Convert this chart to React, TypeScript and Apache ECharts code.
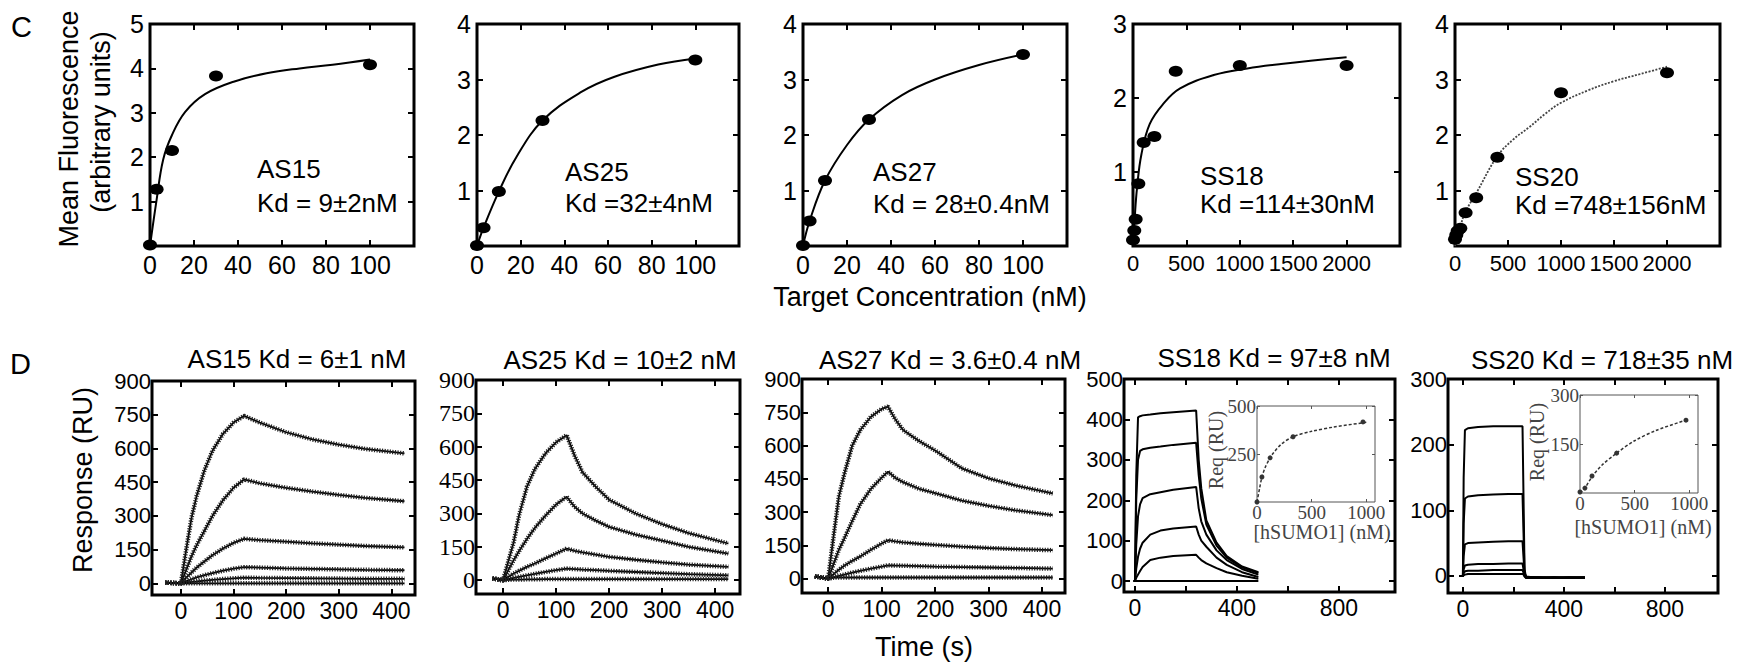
import { useEffect, useRef } from 'react';
import * as echarts from 'echarts';

// ---------------- Panel C: titration data ----------------
const cAS15Conc = [0, 3, 10, 30, 100];
const cAS15Fluor = [0.02, 1.28, 2.15, 3.83, 4.08];
const cAS15FitConc = [0, 3, 6, 10, 16, 25, 38, 53, 68, 83, 100];
const cAS15FitFluor = [0, 1.04, 1.95, 2.5, 3.02, 3.42, 3.7, 3.89, 4.0, 4.08, 4.2];

const cAS25Conc = [0, 3, 10, 30, 100];
const cAS25Fluor = [0.01, 0.33, 0.98, 2.26, 3.35];
const cAS25FitConc = [0, 3, 10, 18, 30, 48, 63, 83, 100];
const cAS25FitFluor = [0, 0.33, 0.98, 1.6, 2.26, 2.78, 3.05, 3.27, 3.38];

const cAS27Conc = [0, 3, 10, 30, 100];
const cAS27Fluor = [0.01, 0.45, 1.18, 2.28, 3.45];
const cAS27FitConc = [0, 3, 10, 20, 30, 45, 60, 80, 100];
const cAS27FitFluor = [0, 0.45, 1.18, 1.82, 2.28, 2.72, 3.0, 3.26, 3.45];

const cSS18Conc = [0, 12, 25, 50, 100, 200, 400, 1000, 2000];
const cSS18Fluor = [0.08, 0.21, 0.36, 0.84, 1.4, 1.48, 2.36, 2.44, 2.44];
const cSS18FitConc = [0, 16, 38, 79, 157, 283, 441, 756, 1071, 1386, 2000];
const cSS18FitFluor = [0, 0.38, 0.79, 1.24, 1.65, 1.92, 2.13, 2.31, 2.4, 2.46, 2.55];

const cSS20Conc = [0, 12, 25, 50, 100, 200, 400, 1000, 2000];
const cSS20Fluor = [0.12, 0.2, 0.27, 0.32, 0.6, 0.87, 1.6, 2.76, 3.12];
const cSS20FitConc = [0, 50, 100, 200, 400, 550, 700, 850, 1000, 1250, 1500, 1750, 2000];
const cSS20FitFluor = [0, 0.35, 0.62, 0.95, 1.62, 1.92, 2.14, 2.38, 2.58, 2.8, 2.97, 3.1, 3.23];

// ---------------- Panel D: sensorgrams ----------------
const dAS15Time = [-30, 0, 10, 20, 30, 45, 60, 80, 100, 120, 150, 200, 250, 300, 350, 425];
const dAS15Resp1 = [3, 0, 150, 290, 390, 505, 590, 665, 715, 745, 715, 672, 640, 617, 598, 578];
const dAS15Resp2 = [3, 0, 60, 120, 170, 235, 300, 370, 425, 462, 445, 425, 408, 393, 380, 365];
const dAS15Resp3 = [3, 0, 25, 48, 70, 98, 125, 155, 180, 198, 192, 185, 178, 172, 166, 160];
const dAS15Resp4 = [3, 0, 9, 18, 26, 36, 45, 56, 65, 72, 70, 66, 64, 62, 60, 58];
const dAS15Resp5 = [3, 0, 3, 6, 8, 12, 15, 19, 22, 25, 24, 23, 22, 21, 20, 20];
const dAS15Resp6 = [3, 0, 0, 0, 0, 0, 0, 0, 0, 0, 0, 0, 0, 0, 0, 0];

const dAS25Time = [-20, 0, 10, 20, 30, 45, 60, 80, 100, 120, 135, 150, 175, 200, 250, 300, 350, 425];
const dAS25Resp1 = [8, 0, 85, 170, 290, 420, 500, 570, 620, 652, 560, 485, 420, 362, 300, 252, 212, 165];
const dAS25Resp2 = [8, 0, 45, 90, 130, 185, 235, 290, 340, 375, 330, 300, 268, 240, 205, 178, 150, 120];
const dAS25Resp3 = [8, 0, 15, 30, 42, 60, 75, 98, 120, 142, 132, 125, 115, 105, 92, 80, 70, 60];
const dAS25Resp4 = [8, 0, 5, 10, 15, 22, 28, 37, 45, 52, 50, 48, 45, 42, 37, 32, 27, 22];
const dAS25Resp5 = [8, 0, 2, 3, 3, 4, 4, 5, 5, 5, 5, 5, 5, 5, 5, 5, 5, 5];

const dAS27Time = [-25, 0, 10, 20, 30, 45, 60, 80, 100, 112, 125, 140, 170, 200, 250, 300, 350, 420];
const dAS27Resp1 = [10, 0, 190, 370, 470, 600, 670, 730, 765, 775, 720, 670, 620, 578, 497, 452, 420, 384];
const dAS27Resp2 = [10, 0, 65, 130, 180, 260, 335, 405, 455, 482, 455, 435, 405, 385, 352, 328, 308, 286];
const dAS27Resp3 = [10, 0, 20, 40, 58, 80, 100, 130, 158, 173, 168, 163, 157, 152, 144, 138, 133, 128];
const dAS27Resp4 = [10, 0, 6, 12, 18, 27, 35, 45, 54, 60, 59, 58, 56, 54, 52, 50, 48, 45];
const dAS27Resp5 = [10, 0, 4, 5, 5, 5, 5, 5, 5, 5, 5, 5, 5, 5, 5, 5, 5, 5];

const dSS18Time = [-5, 0, 5, 12, 20, 30, 60, 100, 150, 240, 250, 260, 280, 320, 360, 420, 484];
const dSS18Resp1 = [0, 0, 260, 405, 408, 410, 412, 415, 418, 422, 300, 230, 150, 95, 62, 36, 22];
const dSS18Resp2 = [0, 0, 200, 300, 322, 326, 330, 333, 337, 342, 262, 205, 140, 88, 58, 34, 20];
const dSS18Resp3 = [0, 0, 90, 160, 190, 205, 215, 220, 226, 233, 180, 148, 115, 76, 52, 30, 16];
const dSS18Resp4 = [0, 0, 30, 60, 80, 95, 115, 125, 130, 135, 115, 100, 85, 58, 40, 22, 10];
const dSS18Resp5 = [0, 0, 8, 16, 25, 35, 52, 58, 62, 65, 58, 52, 44, 32, 22, 13, 6];
const dSS18Resp6 = [0, 0, 0, 0, 0, 0, 0, 0, 0, 0, 0, 0, 0, 0, 0, 0, 0];

const dSS20Time = [-15, 0, 3, 8, 20, 60, 120, 180, 236, 240, 244, 250, 300, 360, 420, 483];
const dSS20Resp1 = [0, 0, 150, 222, 225, 227, 228, 228, 228, 120, 10, -2, -3, -2, -3, -2];
const dSS20Resp2 = [0, 0, 80, 118, 121, 123, 124, 125, 125, 65, 6, -2, -2, -3, -2, -3];
const dSS20Resp3 = [0, 0, 30, 48, 50, 51, 52, 53, 53, 28, 4, -1, -3, -2, -3, -2];
const dSS20Resp4 = [0, 0, 10, 16, 17, 18, 18, 19, 19, 10, 2, -2, -2, -3, -2, -3];
const dSS20Resp5 = [0, 0, 4, 7, 8, 8, 9, 9, 9, 5, 0, -3, -2, -3, -2, -2];
const dSS20Resp6 = [0, 0, 1, 2, 3, 3, 3, 3, 3, 2, -1, -3, -3, -2, -3, -3];

// ---------------- Insets: Req vs [hSUMO1] ----------------
const inSS18Conc = [0, 45, 120, 330, 970];
const inSS18Req = [0, 130, 230, 340, 417];
const inSS18FitConc = [0, 25, 45, 75, 120, 150, 220, 330, 500, 700, 1000];
const inSS18FitReq = [0, 75, 130, 180, 230, 255, 300, 340, 368, 390, 415];

const inSS20Conc = [0, 45, 110, 335, 970];
const inSS20Req = [3, 15, 52, 122, 223];
const inSS20FitConc = [0, 45, 110, 200, 335, 500, 700, 970];
const inSS20FitReq = [0, 15, 50, 85, 122, 160, 192, 223];

// ---------------- Tick labels ----------------
const cAsXTicks = [0, 20, 40, 60, 80, 100];
const cSsXTicks = [0, 500, 1000, 1500, 2000];
const cY5Ticks = [1, 2, 3, 4, 5];
const cY4Ticks = [1, 2, 3, 4];
const cY3Ticks = [1, 2, 3];
const dAsXTicks = [0, 100, 200, 300, 400];
const dAsYTicks = [0, 150, 300, 450, 600, 750, 900];
const dSsXLabels = [0, 400, 800];
const dSsXTicks = [0, 200, 400, 600, 800];
const dSS18YTicks = [0, 100, 200, 300, 400, 500];
const dSS20YTicks = [0, 100, 200, 300];
const inXTicks = [0, 500, 1000];
const inSS18YTicks = [250, 500];
const inSS20YTicks = [150, 300];

const SANS = '"Liberation Sans", Arial, Helvetica, sans-serif';
const SERIF = '"Liberation Serif", "Times New Roman", Times, serif';

const zip = (xs: number[], ys: number[]) => xs.map((x, i) => [x, ys[i]]);
const plain = (v: number) => String(v);

type PanelCfg = {
  left: number; top: number; width: number; height: number;
  xMin: number; xMax: number; yMin: number; yMax: number;
  xLabels: number[]; xTicks: number[]; yLabels: number[]; yTicks: number[];
  xFont: number; yFont: number; xFamily?: string; yFamily?: string;
  xMargin: number; yMargin: number; border: number; tickLen: number; tickWidth: number;
  color?: string; borderColor?: string;
};

function addPanel(opt: any, c: PanelCfg) {
  const gi = opt.grid.length;
  const col = c.color || '#000';
  opt.grid.push({
    left: c.left, top: c.top, width: c.width, height: c.height,
    show: true, borderColor: c.borderColor || '#000', borderWidth: c.border,
    backgroundColor: 'transparent', containLabel: false,
  });
  const tick = (vals: number[]) => ({
    show: true, inside: true, length: c.tickLen, customValues: vals,
    lineStyle: { color: c.borderColor || '#000', width: c.tickWidth },
  });
  const xi = opt.xAxis.length;
  opt.xAxis.push({
    type: 'value', gridIndex: gi, position: 'bottom', min: c.xMin, max: c.xMax,
    splitLine: { show: false }, axisLine: { show: false, onZero: false },
    axisTick: tick(c.xTicks),
    axisLabel: { customValues: c.xLabels, formatter: plain, fontSize: c.xFont, fontFamily: c.xFamily || SANS, color: col, margin: c.xMargin, hideOverlap: false, showMaxLabel: true, showMinLabel: true },
  });
  opt.xAxis.push({
    type: 'value', gridIndex: gi, position: 'top', min: c.xMin, max: c.xMax,
    splitLine: { show: false }, axisLine: { show: false, onZero: false },
    axisTick: tick(c.xTicks), axisLabel: { show: false },
  });
  const yi = opt.yAxis.length;
  opt.yAxis.push({
    type: 'value', gridIndex: gi, position: 'left', min: c.yMin, max: c.yMax,
    splitLine: { show: false }, axisLine: { show: false, onZero: false },
    axisTick: tick(c.yTicks),
    axisLabel: { customValues: c.yLabels, formatter: plain, fontSize: c.yFont, fontFamily: c.yFamily || SANS, color: col, margin: c.yMargin, hideOverlap: false, showMaxLabel: true, showMinLabel: true },
  });
  opt.yAxis.push({
    type: 'value', gridIndex: gi, position: 'right', min: c.yMin, max: c.yMax,
    splitLine: { show: false }, axisLine: { show: false, onZero: false },
    axisTick: tick(c.yTicks), axisLabel: { show: false },
  });
  return { xi, yi };
}

function buildOption() {
  const opt: any = { animation: false, backgroundColor: '#fff', grid: [], xAxis: [], yAxis: [], series: [], graphic: [] };

  // ---- Panel C ----
  const cLayout = [
    { left: 150, top: 24, width: 264, height: 222 },
    { left: 477, top: 24, width: 262, height: 222 },
    { left: 803, top: 24, width: 264, height: 222 },
    { left: 1133, top: 24, width: 267, height: 222 },
    { left: 1455, top: 24, width: 265, height: 222 },
  ];
  const cPanels = [
    { x: [0, 120], y: [0, 5], xl: cAsXTicks, yl: cY5Ticks, xf: 25, pts: [cAS15Conc, cAS15Fluor], fit: [cAS15FitConc, cAS15FitFluor], dotted: false },
    { x: [0, 120], y: [0, 4], xl: cAsXTicks, yl: cY4Ticks, xf: 25, pts: [cAS25Conc, cAS25Fluor], fit: [cAS25FitConc, cAS25FitFluor], dotted: false },
    { x: [0, 120], y: [0, 4], xl: cAsXTicks, yl: cY4Ticks, xf: 25, pts: [cAS27Conc, cAS27Fluor], fit: [cAS27FitConc, cAS27FitFluor], dotted: false },
    { x: [0, 2500], y: [0, 3], xl: cSsXTicks, yl: cY3Ticks, xf: 22, pts: [cSS18Conc, cSS18Fluor], fit: [cSS18FitConc, cSS18FitFluor], dotted: false },
    { x: [0, 2500], y: [0, 4], xl: cSsXTicks, yl: cY4Ticks, xf: 22, pts: [cSS20Conc, cSS20Fluor], fit: [cSS20FitConc, cSS20FitFluor], dotted: true },
  ];
  cPanels.forEach((p, i) => {
    const L = cLayout[i];
    const { xi, yi } = addPanel(opt, {
      ...L, xMin: p.x[0], xMax: p.x[1], yMin: p.y[0], yMax: p.y[1],
      xLabels: p.xl, xTicks: p.xl, yLabels: p.yl, yTicks: p.yl,
      xFont: p.xf, yFont: 25, xMargin: 6, yMargin: 6, border: 3, tickLen: 6, tickWidth: 2,
    });
    opt.series.push({
      type: 'line', xAxisIndex: xi, yAxisIndex: yi, data: zip(p.fit[0], p.fit[1]),
      showSymbol: false, smooth: 0.4, silent: true,
      lineStyle: p.dotted ? { color: '#444', width: 1.8, type: [2, 1.5] } : { color: '#000', width: 2 },
      z: 2,
    });
    opt.series.push({
      type: 'scatter', xAxisIndex: xi, yAxisIndex: yi, data: zip(p.pts[0], p.pts[1]),
      symbol: 'circle', symbolSize: [14, 11], itemStyle: { color: '#000', opacity: 1 }, z: 3,
    });
  });

  // ---- Panel D ----
  const dLayout = [
    { left: 152, top: 381, width: 263, height: 214 },
    { left: 476, top: 380, width: 264, height: 214 },
    { left: 802, top: 379, width: 263, height: 214 },
    { left: 1124, top: 379, width: 271, height: 213 },
    { left: 1448, top: 379, width: 270, height: 214 },
  ];
  const dPanels = [
    { x: [-55, 445], y: [-52, 900], xl: dAsXTicks, xt: dAsXTicks, yl: dAsYTicks, yFam: SANS, yf: 22, t: dAS15Time, curves: [dAS15Resp1, dAS15Resp2, dAS15Resp3, dAS15Resp4, dAS15Resp5, dAS15Resp6], fit: true },
    { x: [-51, 447], y: [-62, 900], xl: dAsXTicks, xt: dAsXTicks, yl: dAsYTicks, yFam: SERIF, yf: 24, t: dAS25Time, curves: [dAS25Resp1, dAS25Resp2, dAS25Resp3, dAS25Resp4, dAS25Resp5], fit: true },
    { x: [-49, 443], y: [-65, 900], xl: dAsXTicks, xt: dAsXTicks, yl: dAsYTicks, yFam: SANS, yf: 22, t: dAS27Time, curves: [dAS27Resp1, dAS27Resp2, dAS27Resp3, dAS27Resp4, dAS27Resp5], fit: true },
    { x: [-43, 1020], y: [-27, 500], xl: dSsXLabels, xt: dSsXTicks, yl: dSS18YTicks, yFam: SANS, yf: 22, t: dSS18Time, curves: [dSS18Resp1, dSS18Resp2, dSS18Resp3, dSS18Resp4, dSS18Resp5, dSS18Resp6], fit: false },
    { x: [-59, 1010], y: [-26, 300], xl: dSsXLabels, xt: dSsXTicks, yl: dSS20YTicks, yFam: SANS, yf: 22, t: dSS20Time, curves: [dSS20Resp1, dSS20Resp2, dSS20Resp3, dSS20Resp4, dSS20Resp5, dSS20Resp6], fit: false },
  ];
  dPanels.forEach((p, i) => {
    const L = dLayout[i];
    const { xi, yi } = addPanel(opt, {
      ...L, xMin: p.x[0], xMax: p.x[1], yMin: p.y[0], yMax: p.y[1],
      xLabels: p.xl, xTicks: p.xt, yLabels: p.yl, yTicks: p.yl,
      xFont: 23, yFont: p.yf, yFamily: p.yFam, xMargin: 4, yMargin: 1, border: 3, tickLen: 6, tickWidth: 2,
    });
    p.curves.forEach((c) => {
      const data = zip(p.t, c);
      opt.series.push({
        type: 'line', xAxisIndex: xi, yAxisIndex: yi, data, showSymbol: false, silent: true,
        lineStyle: { color: '#000', width: p.fit ? 1.8 : 2 }, z: 2,
      });
      if (p.fit) {
        opt.series.push({
          type: 'line', xAxisIndex: xi, yAxisIndex: yi, data, showSymbol: false, silent: true,
          lineStyle: { color: '#222', width: 4.5, type: [1.2, 1.4] }, z: 3,
        });
      }
    });
  });

  // ---- Insets ----
  const inLayout = [
    { left: 1257, top: 406, width: 118, height: 96 },
    { left: 1580, top: 395, width: 118, height: 98 },
  ];
  const insets = [
    { y: [0, 500], yl: inSS18YTicks, pts: [inSS18Conc, inSS18Req], fit: [inSS18FitConc, inSS18FitReq] },
    { y: [0, 300], yl: inSS20YTicks, pts: [inSS20Conc, inSS20Req], fit: [inSS20FitConc, inSS20FitReq] },
  ];
  insets.forEach((p, i) => {
    const L = inLayout[i];
    const { xi, yi } = addPanel(opt, {
      ...L, xMin: 0, xMax: 1080, yMin: p.y[0], yMax: p.y[1],
      xLabels: inXTicks, xTicks: inXTicks, yLabels: p.yl, yTicks: p.yl,
      xFont: 19, yFont: 19, xFamily: SERIF, yFamily: SERIF, xMargin: 1, yMargin: 1,
      border: 1, tickLen: 3, tickWidth: 1, color: '#444', borderColor: '#555',
    });
    opt.series.push({
      type: 'line', xAxisIndex: xi, yAxisIndex: yi, data: zip(p.fit[0], p.fit[1]),
      showSymbol: false, smooth: 0.3, silent: true,
      lineStyle: { color: '#333', width: 1.5, type: [3, 2] }, z: 2,
    });
    opt.series.push({
      type: 'scatter', xAxisIndex: xi, yAxisIndex: yi, data: zip(p.pts[0], p.pts[1]),
      symbol: 'circle', symbolSize: 5, itemStyle: { color: '#333', opacity: 1 }, z: 3,
    });
  });

  // ---- Texts ----
  const txt = (text: string, x: number, y: number, size: number, align = 'left', opts: any = {}) => ({
    type: 'text', x, y, silent: true, rotation: opts.rotation || 0,
    style: {
      text, fontSize: size, fontFamily: opts.family || SANS, fill: opts.fill || '#000',
      textAlign: align, textVerticalAlign: 'middle',
    },
  });
  const V = Math.PI / 2;
  opt.graphic = [
    txt('C', 11, 27, 29),
    txt('Mean Fluorescence', 69, 129, 27, 'center', { rotation: V }),
    txt('(arbitrary units)', 101, 122, 27, 'center', { rotation: V }),
    txt('AS15', 257, 169, 26),
    txt('Kd = 9±2nM', 257, 203, 26),
    txt('AS25', 565, 172, 26),
    txt('Kd =32±4nM', 565, 203, 26),
    txt('AS27', 873, 172, 26),
    txt('Kd = 28±0.4nM', 873, 204, 26),
    txt('SS18', 1200, 176, 26),
    txt('Kd =114±30nM', 1200, 204, 26),
    txt('SS20', 1515, 177, 26),
    txt('Kd =748±156nM', 1515, 205, 26),
    txt('Target Concentration (nM)', 930, 297, 27, 'center'),
    txt('D', 10, 364, 29),
    txt('Response (RU)', 83, 480, 27, 'center', { rotation: V }),
    txt('AS15 Kd = 6±1 nM', 297, 359, 26, 'center'),
    txt('AS25 Kd = 10±2 nM', 620, 360, 26, 'center'),
    txt('AS27 Kd = 3.6±0.4 nM', 950, 360, 26, 'center'),
    txt('SS18 Kd = 97±8 nM', 1274, 358, 26, 'center'),
    txt('SS20 Kd = 718±35 nM', 1602, 360, 26, 'center'),
    txt('Time (s)', 924, 647, 27, 'center'),
    txt('Req (RU)', 1216, 450, 20, 'center', { rotation: V, family: SERIF, fill: '#444' }),
    txt('[hSUMO1] (nM)', 1322, 532, 20, 'center', { family: SERIF, fill: '#444' }),
    txt('Req (RU)', 1537, 442, 20, 'center', { rotation: V, family: SERIF, fill: '#444' }),
    txt('[hSUMO1] (nM)', 1643, 527, 20, 'center', { family: SERIF, fill: '#444' }),
  ];
  return opt;
}

export default function App() {
  const ref = useRef<HTMLDivElement>(null);
  useEffect(() => {
    if (!ref.current) return;
    const chart = echarts.init(ref.current, null, { renderer: 'svg' });
    chart.setOption(buildOption());
    return () => chart.dispose();
  }, []);
  return (
    <div
      ref={ref}
      style={{ position: 'fixed', left: 0, top: 0, width: 1756, height: 668, background: '#fff' }}
    />
  );
}
